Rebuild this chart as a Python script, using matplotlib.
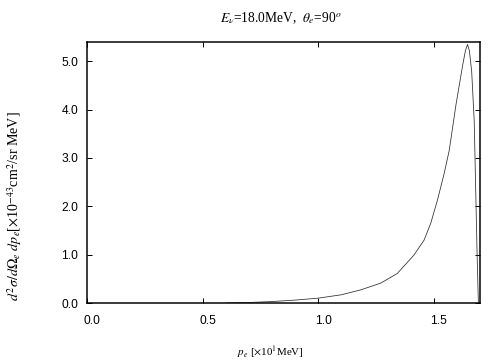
import matplotlib
matplotlib.use("Agg")
import matplotlib.pyplot as plt
from matplotlib.transforms import ScaledTranslation

p_e = [0.60, 0.70, 0.80, 0.90, 1.00, 1.10, 1.183, 1.27, 1.342, 1.414, 1.458,
       1.487, 1.516, 1.545, 1.567, 1.596, 1.625, 1.637, 1.646, 1.654, 1.664,
       1.675, 1.683, 1.687, 1.693]
xsec = [0.0, 0.01, 0.03, 0.06, 0.10, 0.17, 0.27, 0.41, 0.61, 0.99, 1.30,
        1.65, 2.13, 2.68, 3.16, 4.10, 4.92, 5.22, 5.35, 5.22, 4.79,
        3.76, 1.99, 1.10, 0.0]
xticks = [0.0, 0.5, 1.0, 1.5]
yticks = [0.0, 1.0, 2.0, 3.0, 4.0, 5.0]

plt.rcParams['mathtext.fontset'] = 'stix'
serif = 'Liberation Serif'
sans = 'Liberation Sans'

fig = plt.figure(figsize=(7, 5), dpi=72)
ax = fig.add_axes([87/504, 1 - 303/360, (480-87)/504, (303-42)/360])
ax.plot(p_e, xsec, color='#333333', lw=0.8)
ax.set_xlim(0, 1.7)
ax.set_ylim(0, 5.4)
ax.set_xticks(xticks)
ax.set_yticks(yticks)
ax.set_xticklabels([f"{v:.1f}" for v in xticks], family=sans, fontsize=12)
ax.set_yticklabels([f"{v:.1f}" for v in yticks], family=sans, fontsize=12)
ax.tick_params(direction='in', top=True, right=True, length=5, width=1)
ax.tick_params(axis='x', pad=12)
ax.tick_params(axis='y', pad=9)
off = ScaledTranslation(5/72, 0, fig.dpi_scale_trans)
for lab in ax.get_xticklabels():
    lab.set_transform(lab.get_transform() + off)
for s in ax.spines.values():
    s.set_linewidth(1.5)

fig.text(281/504, 1 - 18/360, r"$E_\nu$=18.0MeV,  $\theta_e$=90$^o$",
         ha='center', va='center', family=serif, fontsize=13.5)
fig.text(270/504, 1 - 352/360, r"$p_e$ [$\times$10$^1$MeV]",
         ha='center', va='center', family=serif, fontsize=11)
fig.text(15/504, 1 - 206/360,
         r"$d^2\sigma/d\Omega_e\ dp_e$[$\times$10$^{-43}$cm$^2$/sr MeV]",
         ha='center', va='center', rotation=90, family=serif, fontsize=14)

fig.savefig("out.png", dpi=72)
